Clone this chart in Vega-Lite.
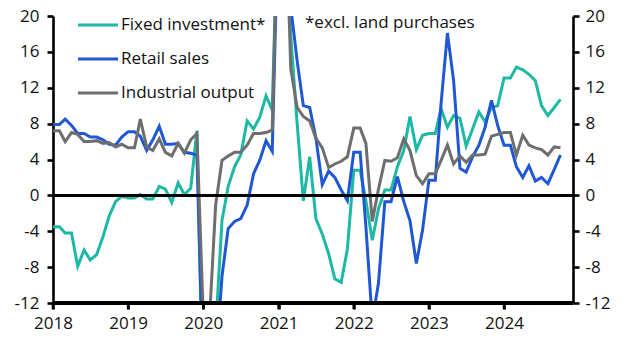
{
  "$schema": "https://vega.github.io/schema/vega-lite/v6.json",
  "width": 520,
  "height": 287,
  "autosize": {"type": "none"},
  "padding": {"left": 53, "top": 16, "right": 55, "bottom": 52},
  "background": "white",
  "config": {
    "view": {"stroke": null},
    "font": "Open Sans",
    "axis": {"domain": true, "ticks": true, "domainColor": "#000", "domainOpacity": 1, "domainWidth": 2.6, "tickColor": "#000", "tickOpacity": 1, "tickWidth": 2.6, "tickSize": 6, "labelFont": "Open Sans", "labelFontSize": 17, "labelColor": "#111", "grid": false, "title": null, "labelFlush": false},
    "legend": {"orient": "none", "legendX": 23, "legendY": -13, "symbolType": "stroke", "symbolSize": 1600, "symbolStrokeWidth": 3.2, "labelFont": "Open Sans", "labelFontSize": 17, "labelColor": "#111", "rowPadding": 4, "labelOffset": 1, "title": null}
  },
  "data": {"values": [
    {"date": "2018-01-01", "fi": -3.5, "rs": 7.9, "io": 7.2},
    {"date": "2018-02-01", "fi": -3.5, "rs": 7.9, "io": 7.2},
    {"date": "2018-03-01", "fi": -4.2, "rs": 8.5, "io": 6.0},
    {"date": "2018-04-01", "fi": -4.2, "rs": 7.8, "io": 7.0},
    {"date": "2018-05-01", "fi": -7.9, "rs": 6.9, "io": 6.8},
    {"date": "2018-06-01", "fi": -6.1, "rs": 6.9, "io": 6.0},
    {"date": "2018-07-01", "fi": -7.2, "rs": 6.5, "io": 6.0},
    {"date": "2018-08-01", "fi": -6.6, "rs": 6.5, "io": 6.1},
    {"date": "2018-09-01", "fi": -4.6, "rs": 6.2, "io": 5.8},
    {"date": "2018-10-01", "fi": -2.3, "rs": 5.7, "io": 5.9},
    {"date": "2018-11-01", "fi": -0.7, "rs": 5.6, "io": 5.4},
    {"date": "2018-12-01", "fi": -0.1, "rs": 6.5, "io": 5.7},
    {"date": "2019-01-01", "fi": -0.3, "rs": 7.1, "io": 5.3},
    {"date": "2019-02-01", "fi": -0.3, "rs": 7.1, "io": 5.3},
    {"date": "2019-03-01", "fi": 0.1, "rs": 6.6, "io": 8.5},
    {"date": "2019-04-01", "fi": -0.4, "rs": 5.0, "io": 5.4},
    {"date": "2019-05-01", "fi": -0.4, "rs": 6.2, "io": 5.0},
    {"date": "2019-06-01", "fi": 1.0, "rs": 7.7, "io": 6.3},
    {"date": "2019-07-01", "fi": 0.7, "rs": 5.7, "io": 4.8},
    {"date": "2019-08-01", "fi": -0.8, "rs": 5.7, "io": 4.4},
    {"date": "2019-09-01", "fi": 1.4, "rs": 5.8, "io": 5.8},
    {"date": "2019-10-01", "fi": 0.1, "rs": 4.8, "io": 4.7},
    {"date": "2019-11-01", "fi": 0.8, "rs": 4.7, "io": 6.2},
    {"date": "2019-12-01", "fi": 7.2, "rs": 4.5, "io": 6.9},
    {"date": "2020-01-01", "fi": -24.5, "rs": -20.5, "io": -13.5},
    {"date": "2020-02-01", "fi": -24.5, "rs": -20.5, "io": -13.5},
    {"date": "2020-03-01", "fi": -15.0, "rs": -19.0, "io": -1.1},
    {"date": "2020-04-01", "fi": -2.8, "rs": -9.0, "io": 3.9},
    {"date": "2020-05-01", "fi": 1.0, "rs": -3.7, "io": 4.4},
    {"date": "2020-06-01", "fi": 3.2, "rs": -2.9, "io": 4.8},
    {"date": "2020-07-01", "fi": 4.5, "rs": -2.6, "io": 4.8},
    {"date": "2020-08-01", "fi": 8.3, "rs": -1.1, "io": 5.6},
    {"date": "2020-09-01", "fi": 7.4, "rs": 2.4, "io": 6.9},
    {"date": "2020-10-01", "fi": 8.7, "rs": 3.9, "io": 6.9},
    {"date": "2020-11-01", "fi": 11.1, "rs": 6.1, "io": 7.0},
    {"date": "2020-12-01", "fi": 9.5, "rs": 4.9, "io": 7.3},
    {"date": "2021-01-01", "fi": 35.0, "rs": 33.0, "io": 35.1},
    {"date": "2021-02-01", "fi": 35.0, "rs": 33.0, "io": 35.1},
    {"date": "2021-03-01", "fi": 17.8, "rs": 21.0, "io": 14.1},
    {"date": "2021-04-01", "fi": 8.0, "rs": 15.0, "io": 9.8},
    {"date": "2021-05-01", "fi": -0.6, "rs": 10.0, "io": 8.8},
    {"date": "2021-06-01", "fi": 4.3, "rs": 9.8, "io": 8.3},
    {"date": "2021-07-01", "fi": -2.6, "rs": 6.4, "io": 6.4},
    {"date": "2021-08-01", "fi": -4.3, "rs": 1.2, "io": 5.3},
    {"date": "2021-09-01", "fi": -6.5, "rs": 2.7, "io": 3.1},
    {"date": "2021-10-01", "fi": -9.3, "rs": 2.0, "io": 3.5},
    {"date": "2021-11-01", "fi": -9.7, "rs": 0.6, "io": 3.8},
    {"date": "2021-12-01", "fi": -6.0, "rs": -0.6, "io": 4.3},
    {"date": "2022-01-01", "fi": 2.8, "rs": 4.8, "io": 7.5},
    {"date": "2022-02-01", "fi": 2.8, "rs": 4.8, "io": 7.5},
    {"date": "2022-03-01", "fi": -0.6, "rs": -3.5, "io": 5.8},
    {"date": "2022-04-01", "fi": -5.0, "rs": -14.0, "io": -2.9},
    {"date": "2022-05-01", "fi": -1.5, "rs": -9.8, "io": 0.7},
    {"date": "2022-06-01", "fi": 0.6, "rs": -0.7, "io": 3.9},
    {"date": "2022-07-01", "fi": 0.6, "rs": -0.7, "io": 3.8},
    {"date": "2022-08-01", "fi": 3.2, "rs": 2.1, "io": 4.2},
    {"date": "2022-09-01", "fi": 5.0, "rs": -0.7, "io": 6.3},
    {"date": "2022-10-01", "fi": 8.8, "rs": -2.8, "io": 5.0},
    {"date": "2022-11-01", "fi": 5.1, "rs": -7.6, "io": 2.2},
    {"date": "2022-12-01", "fi": 6.7, "rs": -3.9, "io": 1.3},
    {"date": "2023-01-01", "fi": 6.9, "rs": 1.7, "io": 2.4},
    {"date": "2023-02-01", "fi": 6.9, "rs": 1.7, "io": 2.4},
    {"date": "2023-03-01", "fi": 9.7, "rs": 10.2, "io": 3.9},
    {"date": "2023-04-01", "fi": 7.6, "rs": 18.1, "io": 5.6},
    {"date": "2023-05-01", "fi": 8.9, "rs": 12.8, "io": 3.5},
    {"date": "2023-06-01", "fi": 8.6, "rs": 3.0, "io": 4.4},
    {"date": "2023-07-01", "fi": 5.5, "rs": 2.6, "io": 3.7},
    {"date": "2023-08-01", "fi": 7.4, "rs": 4.3, "io": 4.5},
    {"date": "2023-09-01", "fi": 9.3, "rs": 5.6, "io": 4.5},
    {"date": "2023-10-01", "fi": 8.2, "rs": 7.6, "io": 4.6},
    {"date": "2023-11-01", "fi": 9.8, "rs": 10.6, "io": 6.6},
    {"date": "2023-12-01", "fi": 10.0, "rs": 7.8, "io": 6.8},
    {"date": "2024-01-01", "fi": 13.1, "rs": 5.6, "io": 7.0},
    {"date": "2024-02-01", "fi": 13.1, "rs": 5.6, "io": 7.0},
    {"date": "2024-03-01", "fi": 14.3, "rs": 3.2, "io": 4.5},
    {"date": "2024-04-01", "fi": 14.0, "rs": 2.0, "io": 6.7},
    {"date": "2024-05-01", "fi": 13.5, "rs": 3.3, "io": 5.6},
    {"date": "2024-06-01", "fi": 12.8, "rs": 1.6, "io": 5.3},
    {"date": "2024-07-01", "fi": 10.0, "rs": 2.0, "io": 5.1},
    {"date": "2024-08-01", "fi": 8.9, "rs": 1.3, "io": 4.5},
    {"date": "2024-09-01", "fi": 9.8, "rs": 2.9, "io": 5.4},
    {"date": "2024-10-01", "fi": 10.7, "rs": 4.5, "io": 5.3}
  ]},
  "layer": [
    {
      "transform": [{"fold": ["fi", "rs", "io"], "as": ["series", "value"]}],
      "mark": {"type": "line", "strokeWidth": 3, "clip": true},
      "encoding": {
        "x": {"field": "date", "type": "temporal",
              "scale": {"domain": [{"year": 2018, "month": 1, "date": 1}, {"year": 2024, "month": 12, "date": 1}]},
              "axis": {"orient": "bottom", "domain": true, "ticks": true, "domainColor": "#000", "domainOpacity": 1, "tickColor": "#000", "tickOpacity": 1, "domainWidth": 2.6, "tickWidth": 2.6, "tickSize": 6, "labelFlush": false, "values": [{"year": 2018, "month": 1, "date": 1}, {"year": 2019, "month": 1, "date": 1}, {"year": 2020, "month": 1, "date": 1}, {"year": 2021, "month": 1, "date": 1}, {"year": 2022, "month": 1, "date": 1}, {"year": 2023, "month": 1, "date": 1}, {"year": 2024, "month": 1, "date": 1}], "format": "%Y", "labelPadding": 6}},
        "y": {"field": "value", "type": "quantitative", "scale": {"domain": [-12, 20], "nice": false},
              "axis": {"orient": "left", "values": [-12, -8, -4, 0, 4, 8, 12, 16, 20], "labelPadding": 8, "labelExpr": "replace(datum.label, '\u2212', '-')"}},
        "color": {"field": "series", "type": "nominal",
                  "scale": {"domain": ["fi", "rs", "io"], "range": ["#1DB9A4", "#2058D3", "#6E6E6E"]},
                  "legend": {"labelExpr": "datum.label == 'fi' ? 'Fixed investment*' : datum.label == 'rs' ? 'Retail sales' : 'Industrial output'"}}
      }
    },
    {
      "mark": {"type": "rule", "color": "#000", "strokeWidth": 2.6},
      "encoding": {
        "y": {"datum": 0, "type": "quantitative", "scale": {"domain": [-12, 20], "nice": false}, "axis": {"orient": "right", "values": [-12, -8, -4, 0, 4, 8, 12, 16, 20], "labelPadding": 6, "labelExpr": "replace(datum.label, '\u2212', '-')"}}
      }
    },
    {
      "mark": {"type": "rule", "color": "#000", "strokeWidth": 2.6},
      "encoding": {
        "y": {"datum": -12, "type": "quantitative", "axis": null}
      }
    },
    {
      "data": {"values": [{"tick": "2018-01-01"}, {"tick": "2019-01-01"}, {"tick": "2020-01-01"}, {"tick": "2021-01-01"}, {"tick": "2022-01-01"}, {"tick": "2023-01-01"}, {"tick": "2024-01-01"}]},
      "mark": {"type": "rule", "color": "#000", "strokeWidth": 2.6, "clip": false},
      "encoding": {
        "x": {"field": "tick", "type": "temporal"},
        "y": {"datum": -12, "type": "quantitative", "axis": null},
        "y2": {"datum": -12.7}
      }
    },
    {
      "data": {"values": [{"note": "*excl. land purchases", "when": "2021-05-09"}]},
      "mark": {"type": "text", "align": "left", "baseline": "middle", "fontSize": 17, "font": "Open Sans", "color": "#111"},
      "encoding": {
        "x": {"field": "when", "type": "temporal"},
        "y": {"datum": 19.2, "type": "quantitative", "axis": null},
        "text": {"field": "note", "type": "nominal"}
      }
    }
  ],
  "resolve": {"axis": {"y": "independent"}}
}
